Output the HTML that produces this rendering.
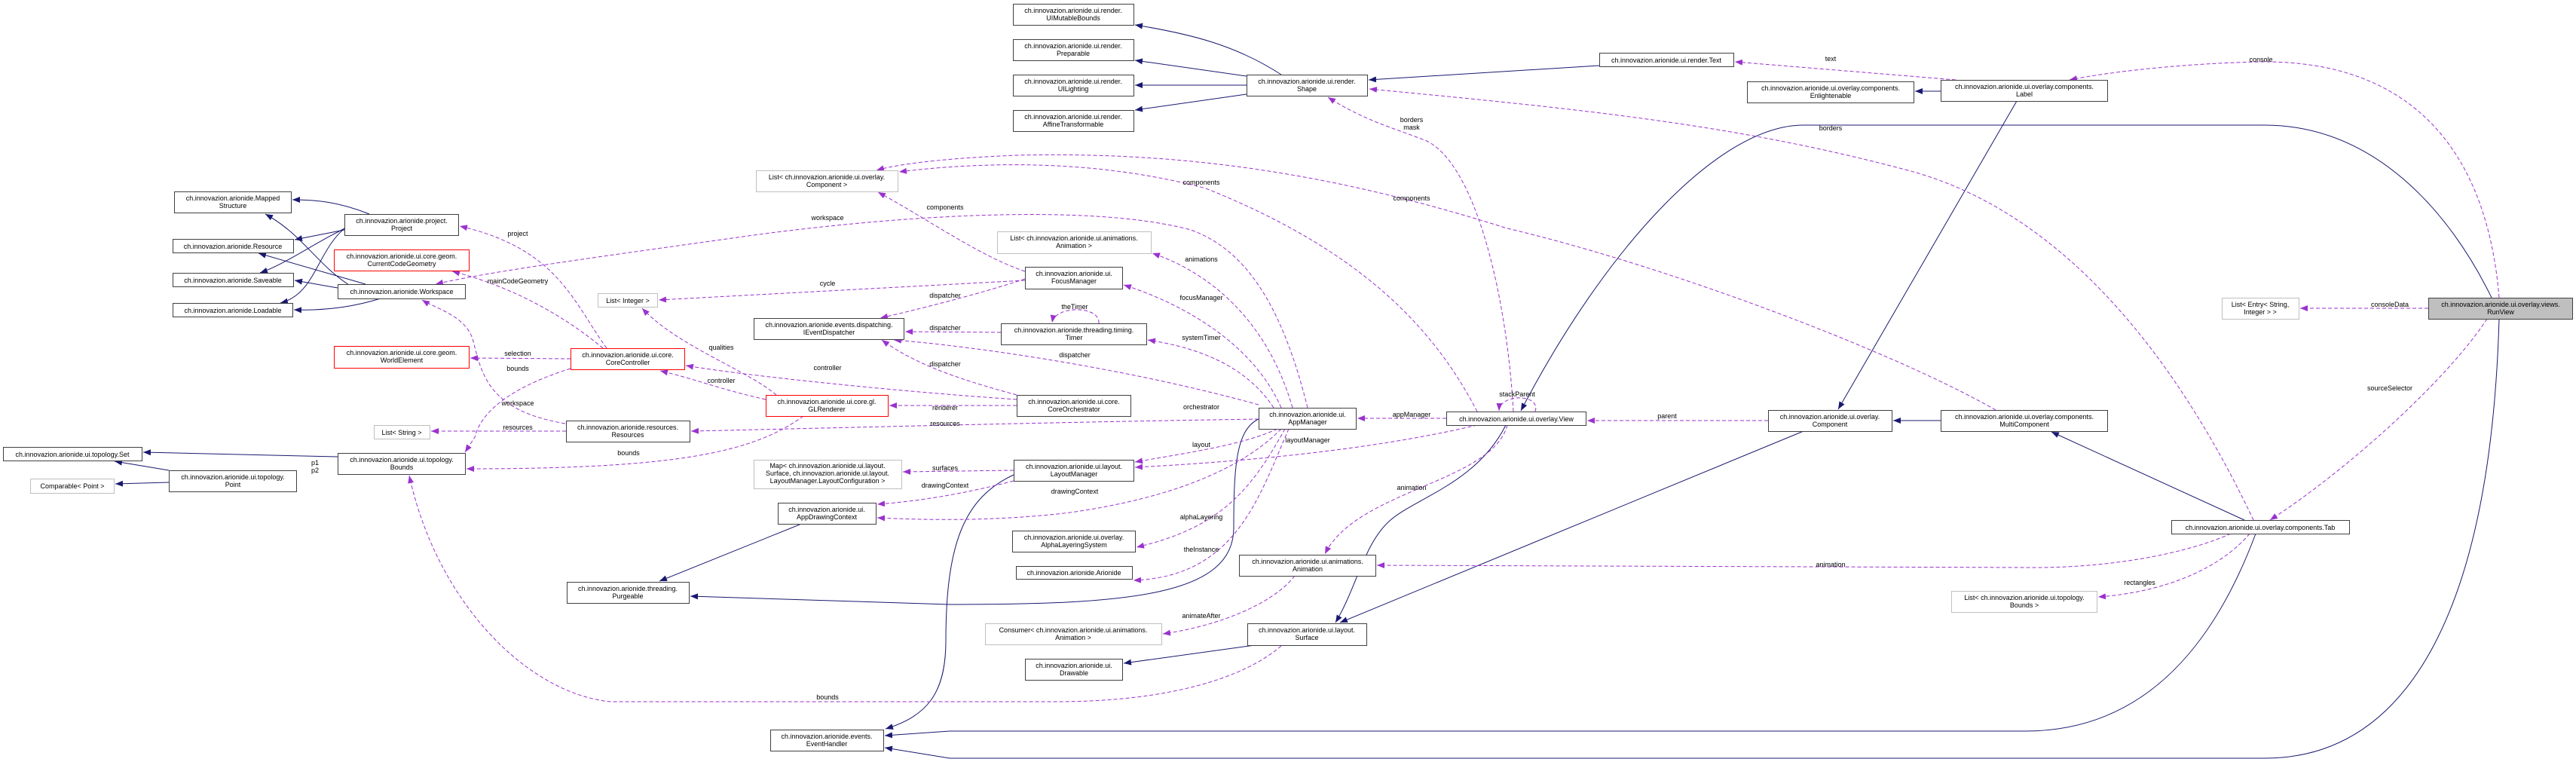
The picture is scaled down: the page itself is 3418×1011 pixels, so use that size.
<!DOCTYPE html>
<html><head><meta charset="utf-8"><style>
html,body{margin:0;padding:0;background:#fff;}
svg{display:block;}
text{font-family:"Liberation Sans",sans-serif;font-size:9px;fill:#000;}
.b{fill:#fff;stroke:#404040;stroke-width:1;}
.g{fill:#fff;stroke:#bfbfbf;stroke-width:1;}
.r{fill:#fff;stroke:#ff0000;stroke-width:1;}
.s{fill:none;stroke:#191970;stroke-width:1;}
.d{fill:none;stroke:#9a32cd;stroke-width:1;stroke-dasharray:5,3;}
</style></head><body>
<svg width="3418" height="1011" viewBox="0 0 3418 1011" xmlns="http://www.w3.org/2000/svg">
<defs>
<marker id="an" markerUnits="userSpaceOnUse" markerWidth="10" markerHeight="8" refX="10" refY="4" orient="auto"><path d="M0,0 L10,4 L0,8 z" fill="#191970"/></marker>
<marker id="ap" markerUnits="userSpaceOnUse" markerWidth="10" markerHeight="8" refX="10" refY="4" orient="auto"><path d="M0,0 L10,4 L0,8 z" fill="#9a32cd"/></marker>
</defs>

<!-- solid edges -->
<g class="s">
<path d="M490,284 C450,268 420,265 388,265" marker-end="url(#an)"/>
<path d="M457,305 L391,318" marker-end="url(#an)"/>
<path d="M472,296 C420,320 380,350 345,362" marker-end="url(#an)"/>
<path d="M462,299 C420,330 420,390 372,402" marker-end="url(#an)"/>
<path d="M463,378 C420,350 400,310 352,284" marker-end="url(#an)"/>
<path d="M485,377 L343,336" marker-end="url(#an)"/>
<path d="M448,382 L391,372" marker-end="url(#an)"/>
<path d="M505,396 C460,410 420,412 390,411" marker-end="url(#an)"/>
<path d="M448,606 L190,600" marker-end="url(#an)"/>
<path d="M224,624 L152,612" marker-end="url(#an)"/>
<path d="M224,640 L153,642" marker-end="url(#an)"/>
<path d="M1700,99 C1640,60 1580,45 1506,33" marker-end="url(#an)"/>
<path d="M1654,101 L1506,80" marker-end="url(#an)"/>
<path d="M1654,113 L1506,113" marker-end="url(#an)"/>
<path d="M1654,125 L1506,146" marker-end="url(#an)"/>
<path d="M2122,87 L1816,106" marker-end="url(#an)"/>
<path d="M2575,121 L2541,121" marker-end="url(#an)"/>
<path d="M2676,134 L2439,543" marker-end="url(#an)"/>
<path d="M2575,558 L2512,558" marker-end="url(#an)"/>
<path d="M2978,690 L2722,573" marker-end="url(#an)"/>
<path d="M2393,572 L1778,826" marker-end="url(#an)"/>
<path d="M1998,564 C1960,640 1880,660 1845,690 C1810,720 1800,780 1772,826" marker-end="url(#an)"/>
<path d="M3306,395 C3250,280 3150,166 3004,166 L2393,166 C2280,166 2130,330 2018,545" marker-end="url(#an)"/>
<path d="M2993,708 C2940,850 2850,970 2687,970 L1260,970 L1174,976" marker-end="url(#an)"/>
<path d="M3316,423 C3305,800 3200,1006 3005,1006 L1260,1006 L1174,992" marker-end="url(#an)"/>
<path d="M1345,630 C1280,660 1255,720 1255,850 C1255,920 1230,950 1175,967" marker-end="url(#an)"/>
<path d="M1670,556 C1640,570 1637,620 1637,700 C1637,790 1500,802 1260,802 L916,791" marker-end="url(#an)"/>
<path d="M1061,696 L875,771" marker-end="url(#an)"/>
<path d="M1665,856 L1491,880" marker-end="url(#an)"/>
</g>

<!-- dashed edges -->
<g class="d">
<path d="M805,462 C760,400 740,330 610,300" marker-end="url(#ap)"/>
<path d="M800,462 C750,420 680,380 600,360" marker-end="url(#ap)"/>
<path d="M757,476 L624,475" marker-end="url(#ap)"/>
<path d="M757,489 C690,510 640,540 630,580 L617,600" marker-end="url(#ap)"/>
<path d="M750,562 C650,545 640,500 628,453 C620,420 580,410 560,398" marker-end="url(#ap)"/>
<path d="M751,572 L572,572" marker-end="url(#ap)"/>
<path d="M1670,556 C1400,560 1100,568 917,572" marker-end="url(#ap)"/>
<path d="M1066,552 C1000,600 900,622 619,622" marker-end="url(#ap)"/>
<path d="M1030,524 C990,490 900,460 852,409" marker-end="url(#ap)"/>
<path d="M1016,530 C950,515 930,505 876,492" marker-end="url(#ap)"/>
<path d="M1349,530 C1200,520 1000,500 910,485" marker-end="url(#ap)"/>
<path d="M1349,538 L1180,538" marker-end="url(#ap)"/>
<path d="M1349,524 C1260,500 1210,480 1170,451" marker-end="url(#ap)"/>
<path d="M1670,537 C1500,490 1300,460 1186,451" marker-end="url(#ap)"/>
<path d="M1328,441 L1201,440" marker-end="url(#ap)"/>
<path d="M1360,370 C1300,390 1220,410 1168,422" marker-end="url(#ap)"/>
<path d="M1360,372 L874,398" marker-end="url(#ap)"/>
<path d="M1360,360 C1300,340 1230,290 1165,255" marker-end="url(#ap)"/>
<path d="M1700,541 C1660,450 1560,400 1491,378" marker-end="url(#ap)"/>
<path d="M1690,541 C1650,480 1580,460 1523,451" marker-end="url(#ap)"/>
<path d="M1458,429 C1460,405 1400,405 1396,428" marker-end="url(#ap)"/>
<path d="M1715,541 C1680,420 1600,360 1529,336" marker-end="url(#ap)"/>
<path d="M1735,541 C1700,400 1650,330 1580,305 C1450,270 1200,285 1000,312 C800,340 650,360 578,377" marker-end="url(#ap)"/>
<path d="M1960,546 C1900,430 1800,330 1600,250 C1450,210 1300,215 1193,228" marker-end="url(#ap)"/>
<path d="M2648,544 C2500,460 2200,350 2000,303 C1800,240 1600,200 1350,206 C1250,210 1190,218 1163,226" marker-end="url(#ap)"/>
<path d="M2008,546 C2000,400 1960,220 1893,187 C1850,170 1810,160 1762,129" marker-end="url(#ap)"/>
<path d="M2990,690 C2900,500 2750,280 2524,224 C2300,165 2100,145 1817,118" marker-end="url(#ap)"/>
<path d="M2595,106 L2302,82" marker-end="url(#ap)"/>
<path d="M3316,395 C3300,200 3200,80 3000,82 C2900,84 2800,95 2746,106" marker-end="url(#ap)"/>
<path d="M3222,409 L3052,409" marker-end="url(#ap)"/>
<path d="M3300,423 C3250,500 3120,620 3012,690" marker-end="url(#ap)"/>
<path d="M2985,708 C2950,750 2880,785 2784,792" marker-end="url(#ap)"/>
<path d="M2960,708 C2900,735 2800,753 2700,753 L1827,750" marker-end="url(#ap)"/>
<path d="M2000,564 C1980,640 1800,650 1758,735" marker-end="url(#ap)"/>
<path d="M1919,555 L1801,555" marker-end="url(#ap)"/>
<path d="M2037,546 C2045,522 1990,522 1989,545" marker-end="url(#ap)"/>
<path d="M2346,558 L2106,558" marker-end="url(#ap)"/>
<path d="M1960,564 C1850,590 1700,610 1506,620" marker-end="url(#ap)"/>
<path d="M1695,569 C1650,590 1580,600 1506,613" marker-end="url(#ap)"/>
<path d="M1345,624 L1198,626" marker-end="url(#ap)"/>
<path d="M1345,638 C1280,655 1220,665 1164,669" marker-end="url(#ap)"/>
<path d="M1700,569 C1650,620 1560,660 1420,680 C1320,692 1230,690 1164,687" marker-end="url(#ap)"/>
<path d="M1705,569 C1660,650 1620,700 1508,726" marker-end="url(#ap)"/>
<path d="M1710,569 C1670,660 1640,765 1504,770" marker-end="url(#ap)"/>
<path d="M1718,764 C1690,800 1620,830 1543,841" marker-end="url(#ap)"/>
<path d="M1700,857 C1650,900 1550,931 1400,931 L810,931 C700,920 580,800 543,631" marker-end="url(#ap)"/>
</g>

<!-- edge labels -->
<g text-anchor="middle">
<text x="687" y="313">project</text>
<text x="687" y="376">mainCodeGeometry</text>
<text x="687" y="472">selection</text>
<text x="687" y="492">bounds</text>
<text x="687" y="538">workspace</text>
<text x="687" y="570">resources</text>
<text x="834" y="604">bounds</text>
<text x="957" y="464">qualities</text>
<text x="957" y="508">controller</text>
<text x="418" y="617">p1</text>
<text x="418" y="627">p2</text>
<text x="1873" y="162">borders</text>
<text x="1873" y="172">mask</text>
<text x="1594" y="245">components</text>
<text x="1873" y="266">components</text>
<text x="1254" y="278">components</text>
<text x="1098" y="292">workspace</text>
<text x="1594" y="347">animations</text>
<text x="1098" y="379">cycle</text>
<text x="1254" y="395">dispatcher</text>
<text x="1594" y="398">focusManager</text>
<text x="1426" y="410">theTimer</text>
<text x="1254" y="438">dispatcher</text>
<text x="1594" y="451">systemTimer</text>
<text x="1426" y="474">dispatcher</text>
<text x="1098" y="491">controller</text>
<text x="1254" y="486">dispatcher</text>
<text x="1254" y="544">renderer</text>
<text x="1594" y="543">orchestrator</text>
<text x="1873" y="553">appManager</text>
<text x="1254" y="565">resources</text>
<text x="1735" y="587">layoutManager</text>
<text x="1594" y="593">layout</text>
<text x="1254" y="624">surfaces</text>
<text x="1254" y="647">drawingContext</text>
<text x="1426" y="655">drawingContext</text>
<text x="1873" y="650">animation</text>
<text x="1594" y="689">alphaLayering</text>
<text x="1594" y="732">theInstance</text>
<text x="1594" y="820">animateAfter</text>
<text x="1098" y="928">bounds</text>
<text x="2013" y="526">stackParent</text>
<text x="2429" y="81">text</text>
<text x="3000" y="82">console</text>
<text x="2429" y="173">borders</text>
<text x="3171" y="407">consoleData</text>
<text x="3171" y="518">sourceSelector</text>
<text x="2212" y="555">parent</text>
<text x="2429" y="752">animation</text>
<text x="2839" y="776">rectangles</text>
</g>

<!-- nodes -->
<g text-anchor="middle">
<rect class="b" x="231.5" y="254.5" width="155" height="28"/><text x="309" y="266">ch.innovazion.arionide.Mapped</text><text x="309" y="276">Structure</text>
<rect class="b" x="457.5" y="284.5" width="151" height="28"/><text x="533" y="296">ch.innovazion.arionide.project.</text><text x="533" y="306">Project</text>
<rect class="b" x="229.5" y="317.5" width="160" height="18"/><text x="309" y="330">ch.innovazion.arionide.Resource</text>
<rect class="r" x="443.5" y="331.5" width="179" height="28"/><text x="533" y="343">ch.innovazion.arionide.ui.core.geom.</text><text x="533" y="353">CurrentCodeGeometry</text>
<rect class="b" x="229.5" y="362.5" width="160" height="18"/><text x="309" y="375">ch.innovazion.arionide.Saveable</text>
<rect class="b" x="448.5" y="377.5" width="169" height="19"/><text x="533" y="390">ch.innovazion.arionide.Workspace</text>
<rect class="b" x="229.5" y="402.5" width="159" height="18"/><text x="309" y="415">ch.innovazion.arionide.Loadable</text>
<rect class="g" x="793.5" y="389.5" width="79" height="18"/><text x="833" y="402">List&lt; Integer &gt;</text>
<rect class="r" x="443.5" y="459.5" width="179" height="29"/><text x="533" y="471">ch.innovazion.arionide.ui.core.geom.</text><text x="533" y="481">WorldElement</text>
<rect class="r" x="757.5" y="462.5" width="151" height="28"/><text x="833" y="474">ch.innovazion.arionide.ui.core.</text><text x="833" y="484">CoreController</text>
<rect class="b" x="751.5" y="558.5" width="164" height="28"/><text x="833" y="570">ch.innovazion.arionide.resources.</text><text x="833" y="580">Resources</text>
<rect class="g" x="496.5" y="564.5" width="74" height="18"/><text x="533" y="577">List&lt; String &gt;</text>
<rect class="b" x="4.5" y="593.5" width="184" height="18"/><text x="96" y="606">ch.innovazion.arionide.ui.topology.Set</text>
<rect class="b" x="448.5" y="601.5" width="169" height="28"/><text x="533" y="613">ch.innovazion.arionide.ui.topology.</text><text x="533" y="623">Bounds</text>
<rect class="b" x="224.5" y="624.5" width="169" height="28"/><text x="309" y="636">ch.innovazion.arionide.ui.topology.</text><text x="309" y="646">Point</text>
<rect class="g" x="40.5" y="635.5" width="111" height="19"/><text x="96" y="648">Comparable&lt; Point &gt;</text>

<rect class="b" x="1344.5" y="5.5" width="160" height="28"/><text x="1424" y="17">ch.innovazion.arionide.ui.render.</text><text x="1424" y="27">UIMutableBounds</text>
<rect class="b" x="1344.5" y="52.5" width="160" height="28"/><text x="1424" y="64">ch.innovazion.arionide.ui.render.</text><text x="1424" y="74">Preparable</text>
<rect class="b" x="1344.5" y="99.5" width="160" height="28"/><text x="1424" y="111">ch.innovazion.arionide.ui.render.</text><text x="1424" y="121">UILighting</text>
<rect class="b" x="1344.5" y="146.5" width="160" height="28"/><text x="1424" y="158">ch.innovazion.arionide.ui.render.</text><text x="1424" y="168">AffineTransformable</text>
<rect class="b" x="1654.5" y="99.5" width="160" height="28"/><text x="1734" y="111">ch.innovazion.arionide.ui.render.</text><text x="1734" y="121">Shape</text>
<rect class="g" x="1003.5" y="226.5" width="188" height="28"/><text x="1097" y="238">List&lt; ch.innovazion.arionide.ui.overlay.</text><text x="1097" y="248">Component &gt;</text>
<rect class="g" x="1323.5" y="307.5" width="204" height="29"/><text x="1425" y="319">List&lt; ch.innovazion.arionide.ui.animations.</text><text x="1425" y="329">Animation &gt;</text>
<rect class="b" x="1360.5" y="354.5" width="129" height="29"/><text x="1425" y="366">ch.innovazion.arionide.ui.</text><text x="1425" y="376">FocusManager</text>
<rect class="b" x="1000.5" y="422.5" width="199" height="28"/><text x="1100" y="434">ch.innovazion.arionide.events.dispatching.</text><text x="1100" y="444">IEventDispatcher</text>
<rect class="b" x="1328.5" y="429.5" width="193" height="28"/><text x="1425" y="441">ch.innovazion.arionide.threading.timing.</text><text x="1425" y="451">Timer</text>
<rect class="r" x="1016.5" y="524.5" width="162" height="28"/><text x="1097" y="536">ch.innovazion.arionide.ui.core.gl.</text><text x="1097" y="546">GLRenderer</text>
<rect class="b" x="1349.5" y="524.5" width="151" height="28"/><text x="1425" y="536">ch.innovazion.arionide.ui.core.</text><text x="1425" y="546">CoreOrchestrator</text>
<rect class="b" x="1670.5" y="541.5" width="129" height="28"/><text x="1735" y="553">ch.innovazion.arionide.ui.</text><text x="1735" y="563">AppManager</text>
<rect class="b" x="1919.5" y="546.5" width="185" height="18"/><text x="2012" y="559">ch.innovazion.arionide.ui.overlay.View</text>
<rect class="g" x="1000.5" y="610.5" width="196" height="38"/><text x="1098" y="621">Map&lt; ch.innovazion.arionide.ui.layout.</text><text x="1098" y="631">Surface, ch.innovazion.arionide.ui.layout.</text><text x="1098" y="641">LayoutManager.LayoutConfiguration &gt;</text>
<rect class="b" x="1345.5" y="610.5" width="159" height="28"/><text x="1425" y="622">ch.innovazion.arionide.ui.layout.</text><text x="1425" y="632">LayoutManager</text>
<rect class="b" x="1032.5" y="667.5" width="130" height="28"/><text x="1097" y="679">ch.innovazion.arionide.ui.</text><text x="1097" y="689">AppDrawingContext</text>
<rect class="b" x="1343.5" y="704.5" width="163" height="28"/><text x="1425" y="716">ch.innovazion.arionide.ui.overlay.</text><text x="1425" y="726">AlphaLayeringSystem</text>
<rect class="b" x="1348.5" y="751.5" width="154" height="17"/><text x="1425" y="763">ch.innovazion.arionide.Arionide</text>
<rect class="b" x="1644.5" y="736.5" width="181" height="28"/><text x="1735" y="748">ch.innovazion.arionide.ui.animations.</text><text x="1735" y="758">Animation</text>
<rect class="b" x="752.5" y="772.5" width="162" height="28"/><text x="833" y="784">ch.innovazion.arionide.threading.</text><text x="833" y="794">Purgeable</text>
<rect class="g" x="1307.5" y="827.5" width="234" height="28"/><text x="1424" y="839">Consumer&lt; ch.innovazion.arionide.ui.animations.</text><text x="1424" y="849">Animation &gt;</text>
<rect class="b" x="1655.5" y="827.5" width="158" height="29"/><text x="1734" y="839">ch.innovazion.arionide.ui.layout.</text><text x="1734" y="849">Surface</text>
<rect class="b" x="1360.5" y="874.5" width="129" height="28"/><text x="1425" y="886">ch.innovazion.arionide.ui.</text><text x="1425" y="896">Drawable</text>
<rect class="b" x="1022.5" y="968.5" width="150" height="28"/><text x="1097" y="980">ch.innovazion.arionide.events.</text><text x="1097" y="990">EventHandler</text>

<rect class="b" x="2122.5" y="70.5" width="178" height="18"/><text x="2211" y="83">ch.innovazion.arionide.ui.render.Text</text>
<rect class="b" x="2318.5" y="108.5" width="221" height="28"/><text x="2429" y="120">ch.innovazion.arionide.ui.overlay.components.</text><text x="2429" y="130">Enlightenable</text>
<rect class="b" x="2575.5" y="106.5" width="221" height="28"/><text x="2686" y="118">ch.innovazion.arionide.ui.overlay.components.</text><text x="2686" y="128">Label</text>
<rect class="g" x="2948.5" y="395.5" width="102" height="28"/><text x="2999" y="407">List&lt; Entry&lt; String,</text><text x="2999" y="417">Integer &gt; &gt;</text>
<rect x="3222.5" y="395.5" width="191" height="28" fill="#bfbfbf" stroke="#404040"/><text x="3318" y="407">ch.innovazion.arionide.ui.overlay.views.</text><text x="3318" y="417">RunView</text>
<rect class="b" x="2346.5" y="544.5" width="164" height="28"/><text x="2428" y="556">ch.innovazion.arionide.ui.overlay.</text><text x="2428" y="566">Component</text>
<rect class="b" x="2575.5" y="544.5" width="221" height="28"/><text x="2686" y="556">ch.innovazion.arionide.ui.overlay.components.</text><text x="2686" y="566">MultiComponent</text>
<rect class="b" x="2881.5" y="690.5" width="236" height="18"/><text x="2999" y="703">ch.innovazion.arionide.ui.overlay.components.Tab</text>
<rect class="g" x="2589.5" y="784.5" width="193" height="28"/><text x="2686" y="796">List&lt; ch.innovazion.arionide.ui.topology.</text><text x="2686" y="806">Bounds &gt;</text>
</g>
</svg>
</body></html>
